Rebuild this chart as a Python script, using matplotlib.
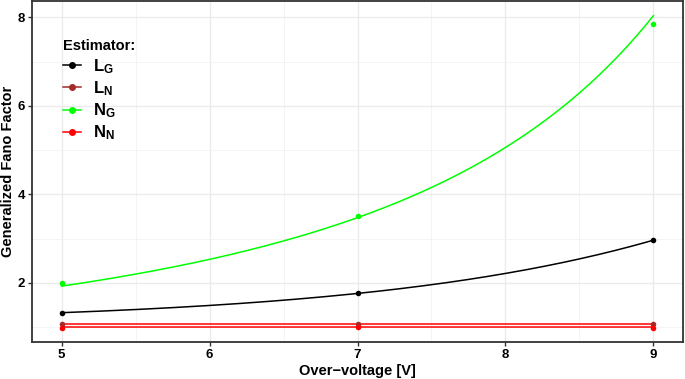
import numpy as np
import matplotlib
matplotlib.use("Agg")
import matplotlib.pyplot as plt
from matplotlib.lines import Line2D
from matplotlib.ticker import MultipleLocator

plt.rcParams['font.family'] = ['Liberation Sans', 'DejaVu Sans']
plt.rcParams['mathtext.fontset'] = 'custom'
plt.rcParams['mathtext.bf'] = 'Liberation Sans:bold'
plt.rcParams['mathtext.rm'] = 'Liberation Sans'

# ---- data ----
over_voltage = [5, 7, 9]
LG = [1.33, 1.765, 2.97]
LN = [1.075, 1.075, 1.075]
NG = [2.00, 3.51, 7.85]
NN = [0.995, 1.0, 0.995]

labels = [r'$\mathbf{L_G}$', r'$\mathbf{L_N}$', r'$\mathbf{N_G}$', r'$\mathbf{N_N}$']
colors = ['#000000', '#A52A2A', '#00FF00', '#FF0000']
line_colors = ['#000000', '#FF0000', '#00FF00', '#FF0000']

# fitted model parameters
LG_fit_a, LG_fit_b, LG_fit_c = 1.084, 0.2458, 0.509     # a + b*exp(c*(V-5))
NG_fit_lam0, NG_fit_slope = 0.28, 0.0918                # 1/(1-lambda)^2, lambda linear in V
LN_fit = 1.072
NN_fit = 0.998

xs = np.linspace(over_voltage[0], over_voltage[-1], 300)
fits = [
    LG_fit_a + LG_fit_b * np.exp(LG_fit_c * (xs - 5)),
    np.full_like(xs, LN_fit),
    1.0 / (1.0 - (NG_fit_lam0 + NG_fit_slope * (xs - 5))) ** 2,
    np.full_like(xs, NN_fit),
]
series = [LG, LN, NG, NN]

fig = plt.figure(figsize=(6.85, 3.79), dpi=100)
ax = fig.add_axes([32/685, 1 - 342/379, (683-32)/685, (342-1)/379])

ax.set_xlim(4.8, 9.2)
ax.set_ylim(0.668, 8.366)
ax.xaxis.set_major_locator(MultipleLocator(1))
ax.xaxis.set_minor_locator(MultipleLocator(0.5))
ax.yaxis.set_major_locator(MultipleLocator(2))
ax.yaxis.set_minor_locator(MultipleLocator(1))
ax.grid(which='major', color='#EBEBEB', linewidth=1.0)
ax.grid(which='minor', color='#F2F2F2', linewidth=0.6)
ax.set_axisbelow(True)

for f, lc in zip(fits, line_colors):
    ax.plot(xs, f, color=lc, linewidth=1.1, zorder=2)
for s, c in zip(series, colors):
    ax.scatter(over_voltage, s, color=c, s=16, zorder=3, linewidths=0)

for sp in ax.spines.values():
    sp.set_color('#333333')
    sp.set_linewidth(1.3)
ax.tick_params(which='major', length=3.0, width=1.0, color='#333333',
               labelsize=9.5, pad=2)
ax.tick_params(which='minor', length=0)
for lab in ax.get_xticklabels() + ax.get_yticklabels():
    lab.set_fontweight('bold')
    lab.set_color('black')

ax.set_xlabel('Over\u2212voltage [V]', fontsize=10.5, fontweight='bold', labelpad=2)
ax.set_ylabel('Generalized Fano Factor', fontsize=10.5, fontweight='bold', labelpad=2)

handles = [Line2D([0], [0], color=c, marker='o', markersize=4, linewidth=1.1)
           for c in colors]
leg = ax.legend(handles, labels, title='Estimator:', loc='upper left',
                bbox_to_anchor=((48-32)/651, 1 - (24.5-1)/341), frameon=False,
                fontsize=12, handlelength=1.1, handletextpad=0.7,
                labelspacing=0.21, alignment='left')
leg.get_title().set_fontweight('bold')
leg.get_title().set_fontsize(10.5)

fig.savefig('out.png', dpi=100)
